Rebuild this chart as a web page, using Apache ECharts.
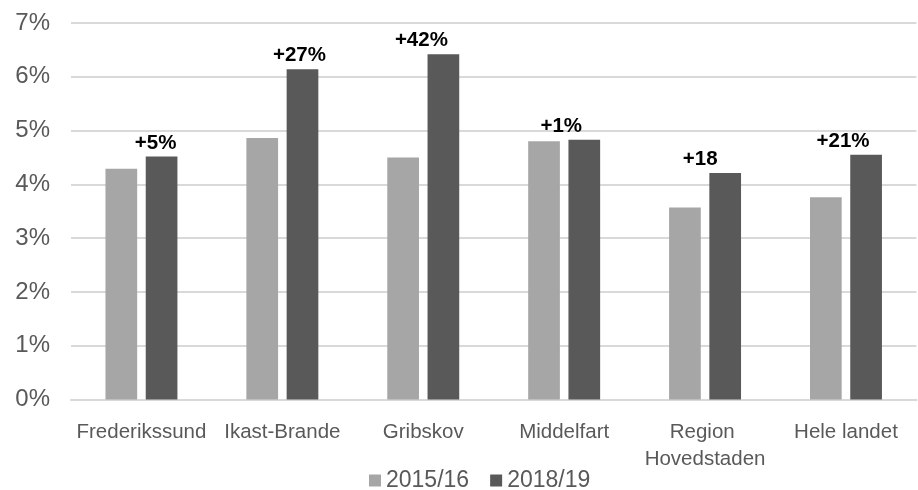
<!DOCTYPE html>
<html>
<head>
<meta charset="utf-8">
<script src="https://cdn.jsdelivr.net/npm/echarts@6/dist/echarts.min.js"></script>
<style>
html,body{margin:0;padding:0;background:#fff;}
#chart{width:918px;height:490px;}
</style>
</head>
<body>
<div id="chart"></div>
<script>
const categories = ["Frederikssund", "Ikast-Brande", "Gribskov", "Middelfart", "Region Hovedstaden", "Hele landet"];
const seriesNames = ["2015/16", "2018/19"];
const values201516 = [4.29, 4.86, 4.50, 4.80, 3.57, 3.76];
const values201819 = [4.52, 6.14, 6.42, 4.83, 4.21, 4.55];
const changeLabels = ["+5%", "+27%", "+42%", "+1%", "+18", "+21%"];
const yTicks = [0, 1, 2, 3, 4, 5, 6, 7];

// label horizontal nudges (style only)
const labelDx = [-6, -3, -22, -23, -25, -23];

const FONT = "'Liberation Sans', Arial, sans-serif";
const chart = echarts.init(document.getElementById('chart'), null, {renderer: 'canvas'});

chart.setOption({
  animation: false,
  backgroundColor: '#ffffff',
  grid: {left: 71, width: 857, top: 23, height: 376.5, containLabel: false},
  legend: {
    data: seriesNames,
    left: 369,
    top: 469,
    padding: 0,
    icon: 'rect',
    itemWidth: 12,
    itemHeight: 12,
    itemGap: 21,
    textStyle: {fontFamily: FONT, fontSize: 23, color: '#595959'}
  },
  xAxis: {
    type: 'category',
    data: categories,
    axisTick: {show: false},
    axisLine: {show: true, lineStyle: {color: '#d9d9d9', width: 2}},
    axisLabel: {
      interval: 0,
      margin: 19,
      fontFamily: FONT,
      fontSize: 20.5,
      lineHeight: 27,
      color: '#595959',
      width: 140,
      overflow: 'break'
    }
  },
  yAxis: {
    type: 'value',
    min: yTicks[0],
    max: yTicks[yTicks.length - 1],
    interval: 1,
    axisLine: {show: false},
    axisTick: {show: false},
    splitLine: {lineStyle: {color: '#d9d9d9', width: 2}},
    axisLabel: {
      margin: 21,
      fontFamily: FONT,
      fontSize: 24,
      color: '#595959',
      formatter: '{value}%'
    }
  },
  series: [
    {
      name: seriesNames[0],
      type: 'bar',
      data: values201516,
      barWidth: 31.7,
      barGap: '27%',
      itemStyle: {color: '#a6a6a6'}
    },
    {
      name: seriesNames[1],
      type: 'bar',
      barWidth: 31.7,
      barGap: '27%',
      itemStyle: {color: '#595959'},
      data: values201819.map((v, i) => ({
        value: v,
        label: {
          show: true,
          position: 'top',
          distance: 3,
          offset: [labelDx[i], 0],
          formatter: changeLabels[i],
          fontFamily: FONT,
          fontSize: 20.5,
          fontWeight: 'bold',
          color: '#000000'
        }
      }))
    }
  ]
});
</script>
</body>
</html>
